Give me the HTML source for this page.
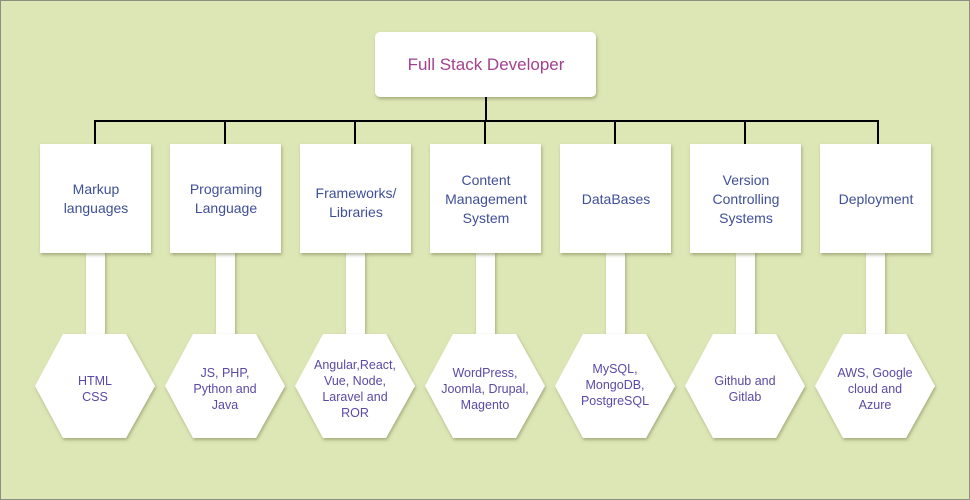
<!DOCTYPE html>
<html><head><meta charset="utf-8"><style>
html,body{margin:0;padding:0;background:#dde6b5;}
svg{display:block;}
text{font-family:"Liberation Sans",Arial,sans-serif;text-anchor:middle;}
.b{font-size:14px;fill:#3f4f98;}
.h{font-size:12.5px;fill:#5a4aa6;}
</style></head><body>
<svg width="970" height="500" viewBox="0 0 970 500" xmlns="http://www.w3.org/2000/svg">
<defs><filter id="s" x="-20%" y="-20%" width="140%" height="140%"><feDropShadow dx="1" dy="2" stdDeviation="1.5" flood-color="#6b7040" flood-opacity="0.5"/></filter></defs>
<rect x="0.5" y="0.5" width="969" height="499" fill="#dde6b5" stroke="#8a8f80"/>
<rect x="375" y="32" width="221" height="65" rx="5" fill="#fff" filter="url(#s)"/>
<text x="486" y="70" style="font-size:17px;fill:#a2418f">Full Stack Developer</text>
<g stroke="#000" stroke-width="2" fill="none">
<line x1="486" y1="97" x2="486" y2="121"/>
<line x1="94" y1="121" x2="879" y2="121"/>
<line x1="95" y1="121" x2="95" y2="144"/><line x1="225" y1="121" x2="225" y2="144"/><line x1="355" y1="121" x2="355" y2="144"/><line x1="485" y1="121" x2="485" y2="144"/><line x1="615" y1="121" x2="615" y2="144"/><line x1="745" y1="121" x2="745" y2="144"/><line x1="878" y1="121" x2="878" y2="144"/>
</g>
<g fill="#fff" filter="url(#s)">
<rect x="86" y="250" width="19" height="88"/><rect x="216" y="250" width="19" height="88"/><rect x="346" y="250" width="19" height="88"/><rect x="476" y="250" width="19" height="88"/><rect x="606" y="250" width="19" height="88"/><rect x="736" y="250" width="19" height="88"/><rect x="866" y="250" width="19" height="88"/>
</g>
<g fill="#fff" filter="url(#s)">
<rect x="40" y="144" width="111" height="109"/><rect x="170" y="144" width="111" height="109"/><rect x="300" y="144" width="111" height="109"/><rect x="430" y="144" width="111" height="109"/><rect x="560" y="144" width="111" height="109"/><rect x="690" y="144" width="111" height="109"/><rect x="820" y="144" width="111" height="109"/>
</g>
<g fill="#fff" filter="url(#s)">
<polygon points="35,386 63,334 126,334 155,386 126,438 63,438"/>
<polygon points="165,386 193,334 256,334 285,386 256,438 193,438"/>
<polygon points="295,386 323,334 386,334 415,386 386,438 323,438"/>
<polygon points="425,386 453,334 516,334 545,386 516,438 453,438"/>
<polygon points="555,386 583,334 646,334 675,386 646,438 583,438"/>
<polygon points="685,386 713,334 776,334 805,386 776,438 713,438"/>
<polygon points="815,386 843,334 906,334 935,386 906,438 843,438"/>
</g>
<g class="b">
<text x="96" y="194">Markup</text><text x="96" y="213">languages</text>
<text x="226" y="194">Programing</text><text x="226" y="213">Language</text>
<text x="356" y="198">Frameworks/</text><text x="356" y="217">Libraries</text>
<text x="486" y="185">Content</text><text x="486" y="204">Management</text><text x="486" y="223">System</text>
<text x="616" y="204">DataBases</text>
<text x="746" y="185">Version</text><text x="746" y="204">Controlling</text><text x="746" y="223">Systems</text>
<text x="876" y="204">Deployment</text>
</g>
<g class="h">
<text x="95" y="385">HTML</text><text x="95" y="401">CSS</text>
<text x="225" y="377">JS, PHP,</text><text x="225" y="393">Python and</text><text x="225" y="409">Java</text>
<text x="355" y="369">Angular,React,</text><text x="355" y="385">Vue, Node,</text><text x="355" y="401">Laravel and</text><text x="355" y="417">ROR</text>
<text x="485" y="377">WordPress,</text><text x="485" y="393">Joomla, Drupal,</text><text x="485" y="409">Magento</text>
<text x="615" y="373">MySQL,</text><text x="615" y="389">MongoDB,</text><text x="615" y="405">PostgreSQL</text>
<text x="745" y="385">Github and</text><text x="745" y="401">Gitlab</text>
<text x="875" y="377">AWS, Google</text><text x="875" y="393">cloud and</text><text x="875" y="409">Azure</text>
</g>
</svg>
</body></html>
